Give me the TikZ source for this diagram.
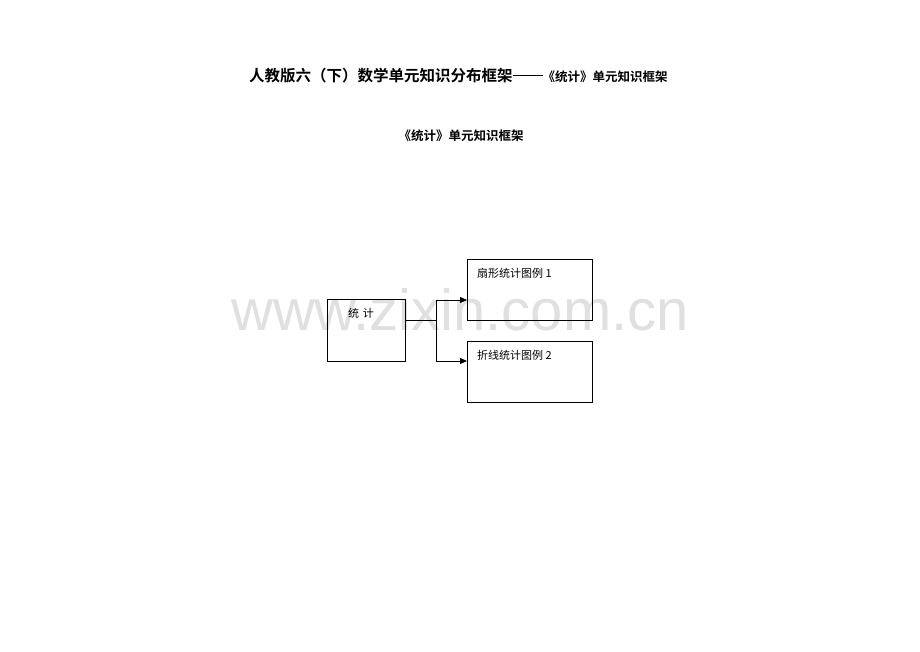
\documentclass[tikz,border=0pt]{standalone}
\usepackage{fontspec}
\newfontfamily\cjk{Noto Sans CJK SC}
\newfontfamily\cjkb{Noto Sans CJK SC Bold}
\setmainfont{Liberation Sans}
\usetikzlibrary{arrows.meta}
\begin{document}
\begin{tikzpicture}[x=1pt,y=-1pt,
  box/.style={draw,line width=0.8pt},
  conn/.style={line width=0.8pt},
  arr/.style={conn,-{Triangle[length=7pt,width=6pt]}},
  lbl/.style={anchor=west,inner sep=0pt,font=\cjk\fontsize{11}{12}\selectfont}]
\useasboundingbox (0,0) rectangle (920,651);
\node[text=black!12,inner sep=0pt,font=\fontsize{58}{58}\selectfont] (wm) at (460,310) {www.zixin.com.cn};
\node[inner sep=0pt,anchor=base west] (t1) at (249,81) {\cjkb\fontsize{15.5}{16}\selectfont 人教版六（下）数学单元知识分布框架\rule[5.2pt]{30pt}{1.3pt}\fontsize{12.5}{13}\selectfont《统计》单元知识框架};
\node[inner sep=0pt,anchor=base] (t2) at (461,140) {\cjkb\fontsize{12.5}{13}\selectfont《统计》单元知识框架};
\draw[box] (327,299) rectangle (405,361);
\coordinate (a) at (405,320);
\coordinate (b) at (436,320);
\coordinate (bt) at (436,300);
\coordinate (bb) at (436,361);
\node[box,minimum width=125pt,minimum height=61pt,anchor=north west] (r1) at (467,259) {};
\node[box,minimum width=125pt,minimum height=61pt,anchor=north west] (r2) at (467,341) {};
\node[lbl] (s) at (348,313) {统\,\,计};
\node[lbl] (l1) at (477,273) {扇形统计图例 1};
\node[lbl] (l2) at (477,355) {折线统计图例 2};
\draw[conn] (a) -- (b);
\draw[conn] (bt) -- (bb);
\draw[arr] (bt) -- (bt -| r1.west);
\draw[arr] (bb) -- (bb -| r2.west);
\end{tikzpicture}
\end{document}
